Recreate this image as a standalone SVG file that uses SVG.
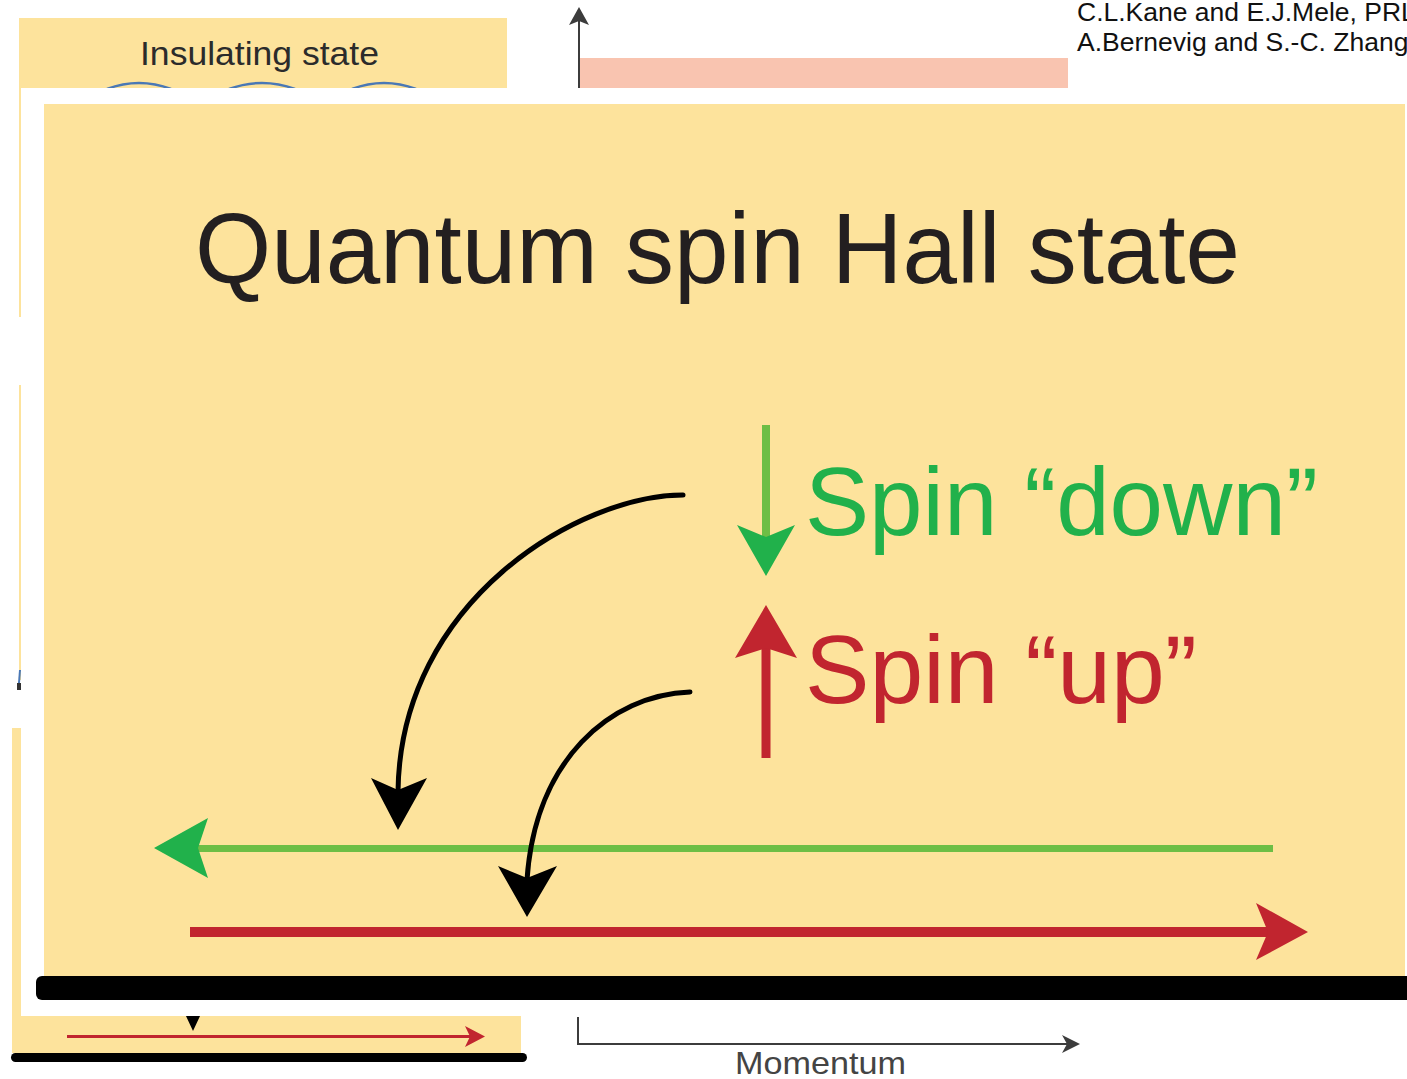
<svg xmlns="http://www.w3.org/2000/svg" width="1407" height="1079" viewBox="0 0 1407 1079">
<style>
.yel{fill:#fde39c}
.sans{font-family:"Liberation Sans",Arial,sans-serif}
.dark{fill:#2b2b2b}
.ax{stroke:#3c3c3c;stroke-width:2;fill:none}
.curve{stroke:#000;stroke-width:5;fill:none;stroke-linecap:round}
</style>
<rect width="1407" height="1079" fill="#fff"/>

<!-- underlying (partially hidden) figure -->
<g id="background-figure">
  <rect class="yel" x="19" y="18" width="488" height="299"/>
  <rect class="yel" x="19" y="385" width="488" height="295"/>
  <path d="M20,670 L19,683" stroke="#4a78b5" stroke-width="2"/>
  <rect x="17" y="683" width="4" height="7" fill="#333"/>
  <rect class="yel" x="12" y="728" width="509" height="325"/>
  <text class="sans dark" x="140" y="65" font-size="34" textLength="239" lengthAdjust="spacingAndGlyphs">Insulating state</text>
  <path d="M107,89 Q139,77 171,89 M229,89 Q262,77 295,89 M352,89 Q384,77 416,89" stroke="#4a78b5" stroke-width="2.5" fill="none"/>
  <rect x="580" y="58" width="488" height="30" fill="#f9c4b0"/>
  <line class="ax" x1="579" y1="88" x2="579" y2="18"/>
  <polygon points="579,7 569,25 579,21 589,25" fill="#3c3c3c"/>
  <text class="sans" x="1077" y="21" font-size="26.5" fill="#111">C.L.Kane and E.J.Mele, PRL</text>
  <text class="sans" x="1077" y="51" font-size="26.5" fill="#111">A.Bernevig and S.-C. Zhang</text>
</g>

<!-- white overlay -->
<rect x="21" y="88" width="1386" height="928" fill="#fff"/>

<!-- foreground panel -->
<g id="qsh-panel">
  <rect class="yel" x="44" y="104" width="1361" height="873"/>
  <rect x="36" y="976" width="1380" height="24" rx="6" fill="#000"/>
</g>

<g id="title">
  <text class="sans" x="195" y="283" font-size="100" fill="#231f20" textLength="1045" lengthAdjust="spacingAndGlyphs">Quantum spin Hall state</text>
</g>

<g id="spin-down-label">
  <text class="sans" x="805" y="535" font-size="97" fill="#21b14b" textLength="513" lengthAdjust="spacingAndGlyphs">Spin “down”</text>
</g>
<g id="spin-up-label">
  <text class="sans" x="805" y="703" font-size="97" fill="#c1252f" textLength="392" lengthAdjust="spacingAndGlyphs">Spin “up”</text>
</g>

<g id="connectors">
  <!-- spin legend arrows -->
  <line x1="766" y1="425" x2="766" y2="540" stroke="#6dbe45" stroke-width="8"/>
  <polygon points="737,525 766,537 795,525 766,576" fill="#21b14b"/>
  <line x1="766" y1="758" x2="766" y2="645" stroke="#c1252f" stroke-width="9"/>
  <polygon points="735,658 766,648 797,658 766,605" fill="#c1252f"/>
  <!-- edge channels -->
  <line x1="198" y1="848.5" x2="1273" y2="848.5" stroke="#6dbe45" stroke-width="7"/>
  <polygon points="154,848 208,818 198,848 208,878" fill="#21b14b"/>
  <line x1="190" y1="932" x2="1268" y2="932" stroke="#c1252f" stroke-width="10"/>
  <polygon points="1308,932 1256,903 1268,932 1256,960" fill="#c1252f"/>
  <!-- curved black arrows -->
  <path class="curve" d="M683,495 C580,495 400,600 398,792"/>
  <polygon points="398,830 371,778 398,790 427,778" fill="#000"/>
  <path class="curve" d="M690,692 C610,695 535,760 527,880"/>
  <polygon points="527,917 498,866 527,878 557,866" fill="#000"/>
</g>

<!-- lower remnants of underlying figure -->
<g id="lower-remnants">
  <polygon points="186,1016 200,1016 193,1031" fill="#000"/>
  <line x1="67" y1="1036.5" x2="472" y2="1036.5" stroke="#c1252f" stroke-width="3"/>
  <polygon points="485,1036.5 465,1026 470,1036.5 465,1047" fill="#c1252f"/>
  <rect x="11" y="1053" width="516" height="9" rx="4.5" fill="#000"/>
  <path class="ax" d="M578,1017 L578,1044 L1070,1044"/>
  <polygon points="1080,1044 1062,1035 1067,1044 1062,1053" fill="#3c3c3c"/>
  <text class="sans" x="735" y="1074" font-size="32" fill="#444" textLength="171" lengthAdjust="spacingAndGlyphs">Momentum</text>
</g>
</svg>
